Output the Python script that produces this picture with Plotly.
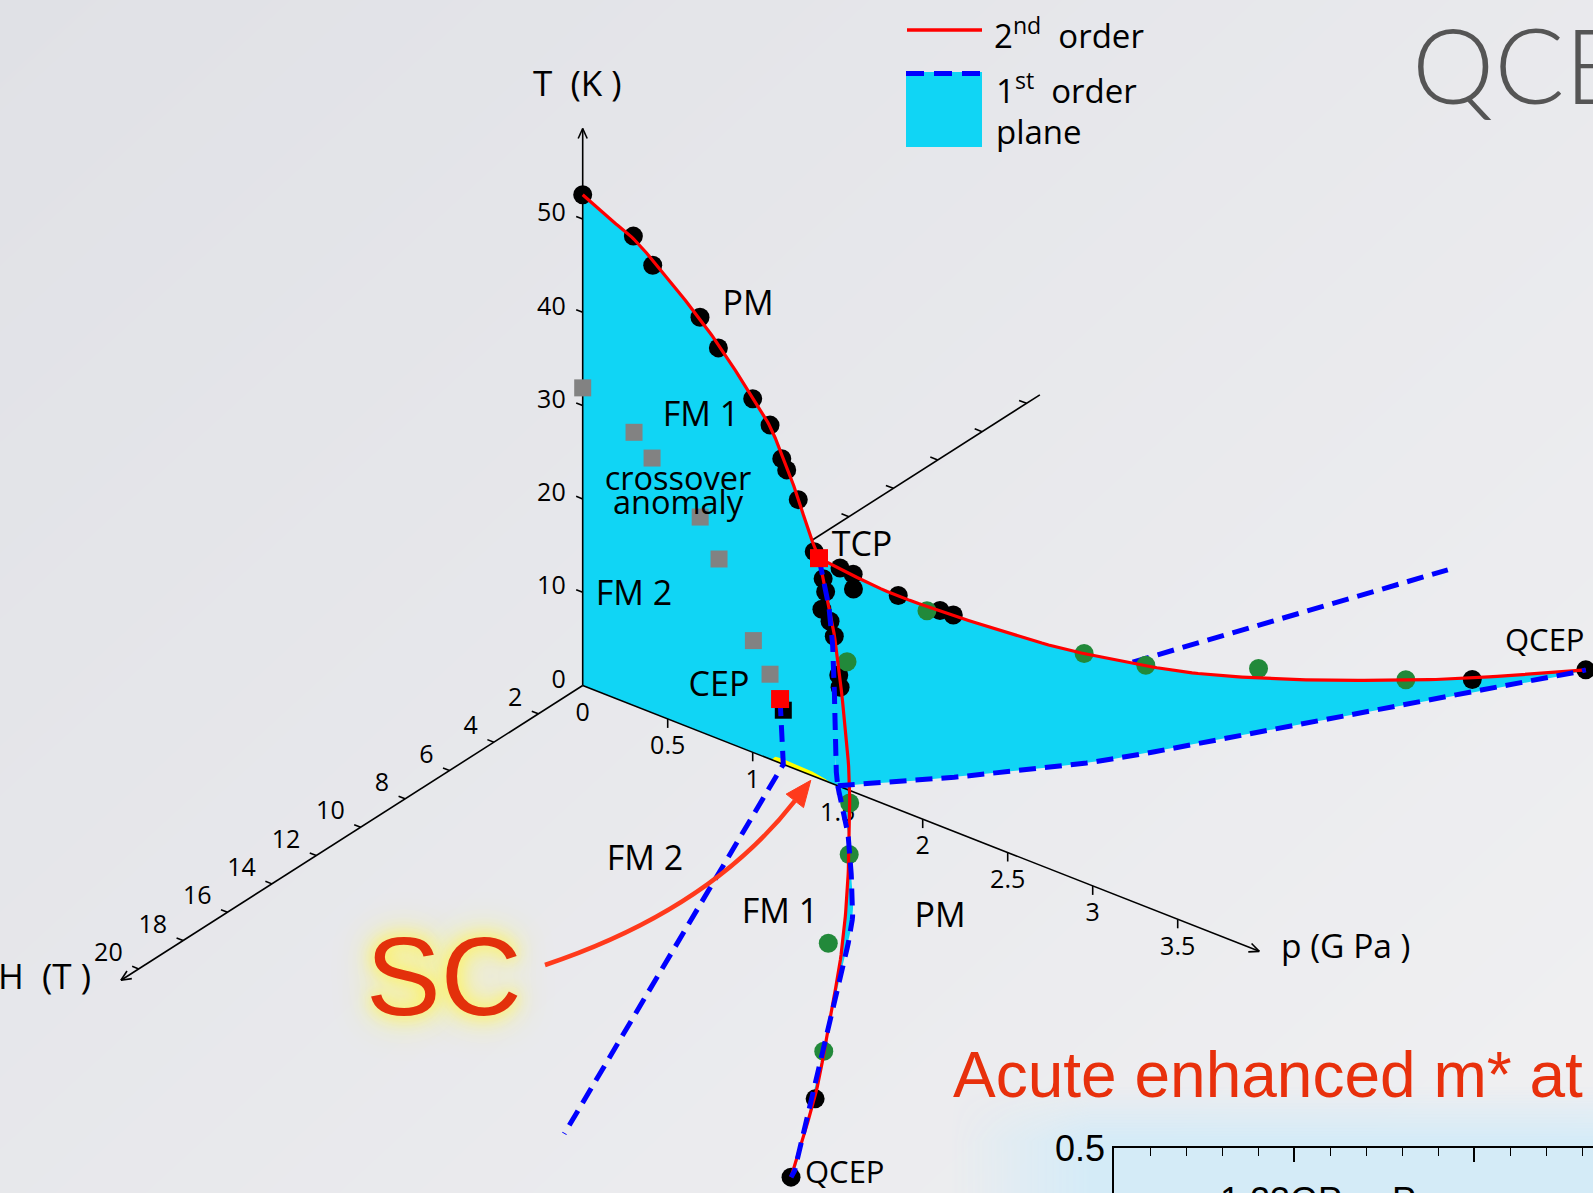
import numpy as np
import plotly.graph_objects as go

# ---------------------------------------------------------------------------
# Phase diagram values: p in GPa, H in tesla, T in kelvin
# ---------------------------------------------------------------------------
# Curie line at H = 0 (second order) from p = 0 to the tricritical point
tc_line_p = [0.00, 0.14, 0.30, 0.46, 0.69, 0.85, 1.00, 1.10, 1.17, 1.22, 1.27, 1.33, 1.39]
tc_line_T = [52.6, 51.3, 50.0, 47.8, 44.2, 41.2, 38.0, 35.7, 33.2, 31.2, 29.0, 26.0, 23.6]

# measured Curie temperatures at H = 0
tc_pts_p = [0.00, 0.298, 0.412, 0.690, 0.798, 1.00, 1.102, 1.171, 1.20, 1.268, 1.362, 1.455]
tc_pts_T = [52.6, 50.3, 48.0, 44.4, 41.9, 37.9, 35.8, 32.7, 31.7, 29.0, 24.1, 17.3]

# tricritical point
tcp_p, tcp_T = 1.39, 23.6

# first-order line at H = 0, TCP down to T = 0
fo_line_p = [1.39, 1.435, 1.465, 1.48, 1.485, 1.50]
fo_line_T = [23.6, 20.2, 16.1, 10.5, 3.3, 0.0]

# second-order wing line (same |H| on both field sides), TCP -> QCEP
wing_p = [1.39, 1.68, 2.11, 2.34, 2.57, 2.81, 3.04, 3.28, 3.563]
wing_H = [0.00, 1.50, 4.20, 5.91, 7.77, 9.91, 12.22, 14.61, 17.90]
wing_T = [23.6, 19.2, 13.5, 10.6, 7.96, 5.77, 3.75, 2.06, 0.00]

# first-order edge of the wings at T = 0
wing0_p = [1.50, 1.77, 2.07, 2.34, 2.70, 3.11, 3.49, 3.563]
wing0_H = [0.00, 1.65, 3.75, 5.80, 9.30, 13.30, 17.03, 17.90]

# measured points on the wings
wing_black_p = [1.464, 1.51, 1.50, 1.668, 1.804, 1.847, 3.30, 3.563]
wing_black_H = [0.38, 0.62, 0.71, 1.44, 2.28, 2.55, 14.8, 17.90]
wing_black_T = [22.5, 21.8, 20.0, 19.4, 17.5, 16.9, 1.8, 0.0]
wing_green_p = [1.79, 2.26, 2.44, 2.71, 3.13]
wing_green_H = [1.80, 5.28, 6.68, 9.69, 13.11]
wing_green_T = [18.1, 11.6, 9.5, 6.5, 3.12]

# FM1 / FM2 crossover anomaly at H = 0
tx_p = [0.000, 0.302, 0.408, 0.691, 0.802, 1.004, 1.102]
tx_T = [31.9, 29.3, 27.3, 23.0, 19.3, 12.0, 9.1]

# critical end point and the FM1-FM2 first-order line below it
cep_p, cep_T = 1.161, 6.86
cep_pt_p, cep_pt_T = 1.18, 5.8
fm12_line_p = [1.161, 1.17, 1.18]
fm12_line_T = [6.86, 3.5, 0.0]
fm12_field_p = [1.18, 2.49]   # T = 0
fm12_field_H = [0.0, 19.9]

# superconducting dome
sc_p = [1.11, 1.14, 1.25, 1.38, 1.47]
sc_T = [0.0, 0.50, 0.52, 0.38, 0.0]

# axes
T_ticks = [10, 20, 30, 40, 50]
T_labels = ["0", "10", "20", "30", "40", "50"]
p_ticks = [0.5, 1.0, 1.5, 2.0, 2.5, 3.0, 3.5]
p_labels = ["0", "0.5", "1", "1.5", "2", "2.5", "3", "3.5"]
H_ticks = [2, 4, 6, 8, 10, 12, 14, 16, 18, 20]
T_max, p_max, H_max = 59.7, 3.98, 20.8
neg_H_axis_p, neg_H_axis_T, neg_H_axis_len = 1.305, 24.4, 10.6
neg_H_ticks = [2, 4, 6, 8, 10]

# ---------------------------------------------------------------------------
# oblique view of the (p, H, T) box on the page (page pixels)
# ---------------------------------------------------------------------------
W, HPX = 1593, 1193
ORIGIN = (582.7, 685.5)
P_VEC = (170.0, 66.8)
H_VEC = (-22.2, 14.17)
T_VEC = (0.0, -9.33)


def proj(p, h, t):
    p, h, t = np.broadcast_arrays(np.asarray(p, float), np.asarray(h, float),
                                  np.asarray(t, float))
    x = ORIGIN[0] + p * P_VEC[0] + h * H_VEC[0] + t * T_VEC[0]
    y = ORIGIN[1] + p * P_VEC[1] + h * H_VEC[1] + t * T_VEC[1]
    return np.atleast_1d(x), np.atleast_1d(y)


def spline(x, y, n=14):
    """Catmull-Rom path through the given page points."""
    x = np.asarray(x, float)
    y = np.asarray(y, float)
    if len(x) < 3:
        return x, y
    P = np.column_stack([x, y])
    P = np.vstack([2 * P[0] - P[1], P, 2 * P[-1] - P[-2]])
    out = []
    for i in range(1, len(P) - 2):
        p0, p1, p2, p3 = P[i - 1], P[i], P[i + 1], P[i + 2]
        for t in np.linspace(0, 1, n, endpoint=False):
            t2, t3 = t * t, t * t * t
            out.append(0.5 * (2 * p1 + (-p0 + p2) * t
                              + (2 * p0 - 5 * p1 + 4 * p2 - p3) * t2
                              + (-p0 + 3 * p1 - 3 * p2 + p3) * t3))
    out.append(P[-2])
    out = np.array(out)
    return out[:, 0], out[:, 1]


fig = go.Figure()

RED = "#ff0000"
BLUE = "#0000ff"
CYAN = "#10d5f5"
GREEN = "#22893a"
DASH = "17px,9px"
FONT = "Open Sans"


def add_line(x, y, color, width, dash=None):
    fig.add_trace(go.Scatter(x=x, y=y, mode="lines",
                             line=dict(color=color, width=width, dash=dash),
                             hoverinfo="skip", showlegend=False))


def add_fill(x, y, color):
    x = np.append(x, x[0])
    y = np.append(y, y[0])
    fig.add_trace(go.Scatter(x=x, y=y, mode="lines", fill="toself",
                             fillcolor=color, line=dict(width=0),
                             hoverinfo="skip", showlegend=False))


def add_markers(x, y, color, size, symbol="circle"):
    fig.add_trace(go.Scatter(x=x, y=y, mode="markers",
                             marker=dict(color=color, size=size, symbol=symbol,
                                         line=dict(width=0)),
                             hoverinfo="skip", showlegend=False))


def add_text(x, y, text, size, pos="middle center", color="black", family=FONT):
    fig.add_trace(go.Scatter(x=np.atleast_1d(x), y=np.atleast_1d(y), mode="text",
                             text=text if isinstance(text, list) else [text],
                             textposition=pos,
                             textfont=dict(family=family, size=size, color=color),
                             hoverinfo="skip", showlegend=False))


# ---- slide background ------------------------------------------------------
fig.add_trace(go.Heatmap(x=[0, W], y=[0, HPX], z=[[0.0, 0.55], [0.45, 1.0]],
                         zsmooth="best", showscale=False, hoverinfo="skip",
                         colorscale=[[0, "#e0e1e6"], [1, "#f0f0f2"]]))
# light blue panel behind the small plot at the bottom right, fading out
fig.add_trace(go.Heatmap(x=[950, 1090, W], y=[1085, 1140, HPX],
                         z=[[0, 0, 0], [0, 1, 1], [0, 1, 1]],
                         zsmooth="best", showscale=False, hoverinfo="skip",
                         colorscale=[[0, "rgba(212,235,247,0)"],
                                     [1, "rgba(212,235,247,1)"]]))

# ---- curves hidden behind the first-order planes ---------------------------
ax, ay = proj([neg_H_axis_p, neg_H_axis_p], [0, -neg_H_axis_len],
              [neg_H_axis_T, neg_H_axis_T])
add_line(ax, ay, "black", 1.6)
ux, uy = -np.array(P_VEC) / np.hypot(*P_VEC)
tx, ty = [], []
for h in neg_H_ticks:
    bx, by = proj(neg_H_axis_p, -h, neg_H_axis_T)
    tx += [bx[0], bx[0] + 8 * ux, None]
    ty += [by[0], by[0] + 8 * uy, None]
add_line(tx, ty, "black", 1.6)

fx, fy = proj(fm12_field_p, -np.array(fm12_field_H), 0)
add_line(fx, fy, BLUE, 5, DASH)

# ---- first-order planes ----------------------------------------------------
tcx, tcy = spline(*proj(tc_line_p, 0, tc_line_T))
fox, foy = spline(*proj(fo_line_p, 0, fo_line_T))
ox, oy = proj(0, 0, 0)
add_fill(np.concatenate([ox, tcx, fox]), np.concatenate([oy, tcy, foy]), CYAN)

for sgn in (-1, 1):
    wx, wy = spline(*proj(wing_p, sgn * np.array(wing_H), wing_T))
    zx, zy = spline(*proj(wing0_p, sgn * np.array(wing0_H), 0))
    add_fill(np.concatenate([wx, zx[::-1], fox[::-1]]),
             np.concatenate([wy, zy[::-1], foy[::-1]]), CYAN)

# superconducting dome
sx, sy = spline(*proj(sc_p, 0, sc_T), n=8)
add_fill(sx, sy, "#ffff00")

# ---- axes ------------------------------------------------------------------
for end in [(0, 0, T_max), (p_max, 0, 0), (0, H_max, 0)]:
    x, y = proj([0, end[0]], [0, end[1]], [0, end[2]])
    add_line(x, y, "black", 1.6)
    d = np.array([x[1] - x[0], y[1] - y[0]])
    d /= np.hypot(*d)
    hx, hy = [], []
    for ang in (0.42, -0.42):
        c, s = np.cos(ang), np.sin(ang)
        r = np.array([c * d[0] - s * d[1], s * d[0] + c * d[1]])
        hx += [x[1], x[1] - 11 * r[0], None]
        hy += [y[1], y[1] - 11 * r[1], None]
    add_line(hx, hy, "black", 1.6)

tx, ty = [], []
for t in T_ticks:
    bx, by = proj(0, 0, t)
    tx += [bx[0], bx[0] + 7 * ux, None]
    ty += [by[0], by[0] + 7 * uy, None]
for h in H_ticks:
    bx, by = proj(0, h, 0)
    tx += [bx[0], bx[0] + 7 * ux, None]
    ty += [by[0], by[0] + 7 * uy, None]
for p in p_ticks:
    bx, by = proj(p, 0, 0)
    tx += [bx[0], bx[0], None]
    ty += [by[0], by[0] + 9, None]
add_line(tx, ty, "black", 1.6)

# tick labels
lx, ly = proj(0, 0, [0] + T_ticks)
add_text(lx - 17, ly - 4, T_labels, 25, "middle left")
lx, ly = proj([0] + p_ticks, 0, 0)
add_text(lx, ly + 29, p_labels, 25)
lx, ly = proj(0, H_ticks, 0)
add_text(lx - 16, ly - 14, [str(h) for h in H_ticks], 25, "middle left")

# ---- crossover anomaly -----------------------------------------------------
x, y = proj(tx_p, 0, tx_T)
add_markers(x, y, "#828282", 17, "square")

# ---- measured points -------------------------------------------------------
x, y = proj(tc_pts_p, 0, tc_pts_T)
add_markers(x, y, "black", 19)
for sgn in (-1, 1):
    x, y = proj(wing_black_p, sgn * np.array(wing_black_H), wing_black_T)
    add_markers(x, y, "black", 19)
    x, y = proj(wing_green_p, sgn * np.array(wing_green_H), wing_green_T)
    add_markers(x, y, GREEN, 19)

x, y = proj(cep_pt_p, 0, cep_pt_T)
add_markers(x, y, "black", 17, "square")

# ---- transition lines ------------------------------------------------------
add_line(tcx, tcy, RED, 3.2)
for sgn in (-1, 1):
    wx, wy = spline(*proj(wing_p, sgn * np.array(wing_H), wing_T))
    add_line(wx, wy, RED, 3.2)
for sgn in (-1, 1):
    zx, zy = spline(*proj(wing0_p, sgn * np.array(wing0_H), 0))
    add_line(zx, zy, BLUE, 5, DASH)
add_line(fox, foy, BLUE, 5, DASH)

cx, cy = proj(fm12_line_p, 0, fm12_line_T)
fx, fy = proj(fm12_field_p, fm12_field_H, 0)
add_line(np.concatenate([cx, fx[1:]]), np.concatenate([cy, fy[1:]]), BLUE, 5, DASH)

x, y = proj([tcp_p, cep_p], 0, [tcp_T, cep_T])
add_markers(x, y, RED, 18, "square")

# ---- region labels -----------------------------------------------------------
labels = [("PM", 748, 306), ("FM 1", 701, 417), ("FM 2", 634, 596),
          ("CEP", 719, 687), ("TCP", 862, 547), ("PM", 940, 918),
          ("FM 1", 780, 914), ("FM 2", 645, 861)]
for txt, x, y in labels:
    add_text(x, y, txt, 34)
add_text(678, 482, "crossover", 32.5)
add_text(678, 506, "anomaly", 32.5)
add_text(805, 1175, "QCEP", 31, "middle right")
add_text(1505, 643, "QCEP", 31, "middle right")

# axis titles
add_text(533, 87, "T\u00a0\u00a0(K\u00a0)", 35, "middle right")
add_text(1281, 950, "p (G Pa\u00a0)", 33.5, "middle right")
add_text(-2, 980, "H\u00a0\u00a0(T\u00a0)", 35, "middle right")

# ---- SC label with arrow pointing at the dome -------------------------------
tipx, tipy = proj(1.33, 0, 0)
tip = np.array([tipx[0] + 2, tipy[0] + 6])
start = np.array([545.0, 965.0])
ctrl = np.array([710.0, 910.0])
dirv = tip - ctrl
dirv /= np.hypot(*dirv)
perp = np.array([-dirv[1], dirv[0]])
base = tip - 26 * dirv
fig.add_shape(type="path", xref="x", yref="y",
              path=f"M {start[0]},{start[1]} Q {ctrl[0]},{ctrl[1]} {base[0]},{base[1]}",
              line=dict(color="#ff3a1c", width=4.5))
c1 = base + 11 * perp
c2 = base - 11 * perp
fig.add_shape(type="path", xref="x", yref="y",
              path=f"M {tip[0]},{tip[1]} L {c1[0]},{c1[1]} L {c2[0]},{c2[1]} Z",
              fillcolor="#ff3a1c", line=dict(color="#ff3a1c", width=1))

annotations = []
annotations.append(dict(x=364, y=976, xref="x", yref="y", text="SC", showarrow=False,
                        xanchor="left", yanchor="middle",
                        font=dict(family="Liberation Sans", size=112, color="#e3300b",
                                  shadow="0px 0px 16px #fff45a, 0px 0px 28px #fff45a, 0px 0px 44px #fff88f")))

# ---- legend ------------------------------------------------------------------
fig.add_shape(type="line", x0=907, x1=982, y0=30, y1=30, xref="x", yref="y",
              line=dict(color=RED, width=3.3))
fig.add_shape(type="rect", x0=906, x1=982, y0=72, y1=147, xref="x", yref="y",
              fillcolor=CYAN, line=dict(width=0))
fig.add_shape(type="line", x0=906, x1=982, y0=73.5, y1=73.5, xref="x", yref="y",
              line=dict(color=BLUE, width=5, dash="18px,10px"))
annotations += [
    dict(x=992, y=33, text="2<sup>nd</sup>\u00a0\u00a0order", xanchor="left"),
    dict(x=994, y=88, text="1<sup>st</sup>\u00a0\u00a0order", xanchor="left"),
    dict(x=994, y=131, text="plane", xanchor="left"),
]
for a in annotations[-3:]:
    a.update(xref="x", yref="y", showarrow=False, yanchor="middle",
             font=dict(family=FONT, size=33, color="black"))

# ---- slide texts -------------------------------------------------------------
annotations.append(dict(x=1410, y=63, xref="x", yref="y", text="QCEP", showarrow=False,
                        xanchor="left", yanchor="middle",
                        font=dict(family="Lato", size=104, color="#555555", weight=300)))
annotations.append(dict(x=951, y=1075, xref="x", yref="y", text="Acute enhanced m* at QCEP",
                        showarrow=False, xanchor="left", yanchor="middle",
                        font=dict(family="Liberation Sans", size=64, color="#e8300c")))
annotations.append(dict(x=1218, y=(HPX - 1200) / HPX, xref="x", yref="paper",
                        text="1.23GPa\u00a0\u00a0\u00a0P",
                        showarrow=False, xanchor="left", yanchor="middle",
                        font=dict(family="Liberation Sans", size=36, color="black")))

fig.update_layout(
    width=W, height=HPX, autosize=False,
    margin=dict(l=0, r=0, t=0, b=0, pad=0, autoexpand=False),
    paper_bgcolor="#e8e9ec", plot_bgcolor="rgba(0,0,0,0)",
    showlegend=False,
    xaxis=dict(range=[0, W], visible=False, fixedrange=True, domain=[0, 1],
               automargin=False),
    yaxis=dict(range=[HPX, 0], visible=False, fixedrange=True, domain=[0, 1],
               automargin=False),
    # small plot frame at the bottom right
    xaxis2=dict(domain=[1114 / W, 1.0], anchor="y2", side="top", range=[0, 13.3],
                showline=True, linecolor="black", linewidth=1.5, showgrid=False,
                zeroline=False, ticks="inside", ticklen=14, tickwidth=1.5,
                tickcolor="black", dtick=5, tick0=0, showticklabels=False,
                minor=dict(dtick=1, ticks="inside", ticklen=8, tickwidth=1.2,
                           tickcolor="black", showgrid=False),
                fixedrange=True, automargin=False),
    yaxis2=dict(domain=[0, (HPX - 1148) / HPX], anchor="x2", range=[0.44, 0.5],
                showline=True, linecolor="black", linewidth=1.5, showgrid=False,
                zeroline=False, tickvals=[0.5], ticktext=["0.5"], ticks="inside",
                ticklen=12, tickwidth=1.5, tickcolor="black",
                tickfont=dict(family="Liberation Sans", size=36, color="black"),
                fixedrange=True, automargin=False),
    annotations=annotations,
)
# invisible trace so the small plot frame is drawn
fig.add_trace(go.Scatter(x=[0], y=[0.44], xaxis="x2", yaxis="y2", mode="markers",
                         marker=dict(opacity=0), hoverinfo="skip", showlegend=False))

fig.write_html("out.html", config={"displayModeBar": False},
               post_script="document.body.style.margin='0';")
